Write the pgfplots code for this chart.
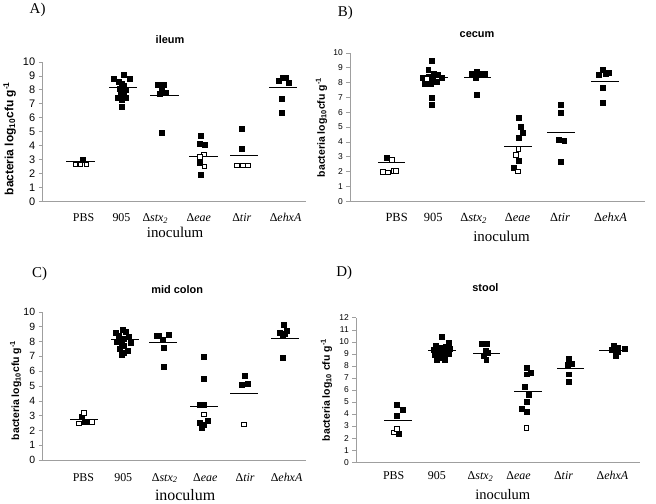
\documentclass[border=0pt]{standalone}
\usepackage{fontspec}
\setmainfont{Liberation Serif}
\newfontfamily\arial{Liberation Sans}
\usepackage{pgfplots}
\pgfplotsset{compat=1.18}
\newcommand{\fs}[1]{\fontsize{#1}{#1}\selectfont}
\pgfplotsset{
 panel/.style={
  scale only axis, anchor=south west,
  axis lines=left, axis line style={-, draw=gray!75, line width=0.6pt},
  clip=false, ymin=0,
  xticklabels={PBS,905,Δ\textit{stx}\textsubscript{\textit{2}},Δ\textit{eae},Δ\textit{tir},Δ\textit{ehxA}},
  major x tick style={draw=none},
  tick align=outside, major tick length=4bp,
  major y tick style={draw=gray!75, line width=0.6pt},
  /pgf/number format/assume math mode=true,
  xticklabel style={anchor=base, font=\fs{12bp}},
  yticklabel style={anchor=east},
  ylabel style={anchor=center},
  title style={anchor=center, font=\arial\bfseries\fs{11bp}},
  xlabel style={anchor=base, font=\fs{15bp}},
 },
 filled/.style={only marks, mark=square*, mark size=2.5pt, mark options={fill=black, draw=black, line width=0.4pt}},
 open/.style={only marks, mark=square*, mark size=2.4pt, mark options={fill=white, draw=black, line width=0.7pt}},
 mean/.style={only marks, mark=*, mark size=0pt, mark options={draw=none, fill=none},
   error bars/.cd, x dir=both, x fixed=#1, error mark=none, error bar style={draw=black, line width=1pt}},
}
\begin{document}
\begin{tikzpicture}
\path (0,0) rectangle (656bp,-502bp);
\node[font=\fs{15bp}] at (35bp,-9bp) {A)};
\node[font=\fs{15bp}] at (344bp,-12bp) {B)};
\node[font=\fs{15bp}] at (37bp,-274bp) {C)};
\node[font=\fs{15bp}] at (343bp,-273bp) {D)};

% ---------------- A: ileum
\begin{axis}[panel, at={(40bp,-201bp)}, width=265bp, height=140bp,
  xmin=0, xmax=6.625, ymax=10, ytick={0,...,10},
  xtick={1.03,1.98,2.83,3.92,5.0,6.1},
  xticklabel style={yshift=-16.7bp},
  yticklabel style={font=\arial\fs{11bp}},
  title={ileum}, title style={at={(axis description cs:0.483,1.12)}},
  xlabel={inoculum}, xlabel style={at={(axis description cs:0.502,-0.26)}},
  ylabel={bacteria log\textsubscript{10}cfu g\textsuperscript{-1}},
  ylabel style={at={(axis description cs:-0.125,0.45)}, font=\arial\bfseries\fs{12bp}}]
\addplot[filled] coordinates {
 (1.0,3.0)
 (1.79,8.8) (2.03,9.05) (2.19,8.8) (1.90,8.55) (1.98,8.45) (2.04,8.3) (1.93,8.1)
 (2.08,8.0) (2.03,7.8) (1.95,7.75) (1.88,7.4) (2.08,7.4) (1.98,7.3) (1.98,6.8)
 (2.88,8.33) (3.04,8.33) (2.98,8.0) (3.10,7.76) (2.94,7.69) (3.0,4.95)
 (3.98,4.71) (3.94,4.12) (4.06,4.08) (3.95,2.78) (3.98,1.88)
 (5.0,5.24) (5.0,3.76)
 (5.92,8.64) (6.03,8.85) (6.1,8.9) (6.17,8.52) (6.0,7.35) (6.0,6.38)};
\addplot[open] coordinates {
 (0.82,2.65) (0.95,2.65) (1.1,2.65)
 (4.04,3.36) (3.94,3.2) (4.06,2.5)
 (4.88,2.57) (5.02,2.57) (5.16,2.57)};
\addplot[mean=0.355] coordinates {
 (0.95,2.86) (2.02,8.14) (3.06,7.59) (4.04,3.22) (5.06,3.3) (6.04,8.19)};
\end{axis}

% ---------------- B: cecum
\begin{axis}[panel, at={(349bp,-201bp)}, width=296bp, height=149bp,
  xmin=0, xmax=7, ymax=10, ytick={0,...,10},
  xtick={1.1,1.97,2.93,3.97,4.98,6.18},
  xticklabel style={yshift=-16.7bp, font=\fs{12.5bp}},
  yticklabel style={font=\arial\fs{8.5bp}},
  title={cecum}, title style={at={(axis description cs:0.43,1.08)}},
  xlabel={inoculum}, xlabel style={at={(axis description cs:0.513,-0.27)}},
  ylabel={bacteria log\textsubscript{10}cfu g\textsuperscript{-1}},
  ylabel style={at={(axis description cs:-0.098,0.497)}, font=\arial\bfseries\fs{10.5bp}}]
\addplot[filled] coordinates {
 (0.875,2.92)
 (1.94,9.5) (1.85,8.85) (1.99,8.6) (2.08,8.5) (1.73,8.3) (1.87,8.4) (2.18,8.3)
 (1.96,8.2) (1.79,8.1) (2.06,8.05) (1.92,7.95) (1.76,7.9) (1.94,7.0) (1.94,6.5)
 (2.88,8.61) (3.0,8.74) (3.06,8.57) (3.19,8.57) (2.98,8.3) (3.0,7.16)
 (3.99,5.66) (4.04,5.03) (4.09,4.61) (3.99,4.27) (3.99,2.75) (3.87,2.24)
 (4.99,6.51) (4.99,5.95) (4.95,4.14) (5.08,4.09) (4.99,2.68)
 (5.89,8.52) (5.99,8.84) (6.07,8.57) (6.14,8.66) (5.99,7.67) (5.99,6.62)};
\addplot[open] coordinates {
 (0.99,2.78) (0.78,2.0) (0.9,1.95) (1.02,2.05) (1.09,2.05)
 (1.82,8.25)
 (3.99,3.54) (3.93,3.15) (3.98,2.01)};
\addplot[mean=0.33] coordinates {
 (0.98,2.6) (1.98,8.37) (3.02,8.37) (3.98,3.69) (5.0,4.61) (6.04,8.07)};
\end{axis}

% ---------------- C: mid colon
\begin{axis}[panel, at={(40bp,-461bp)}, width=265bp, height=149bp,
  xmin=-0.075, xmax=6.55, ymax=10, ytick={0,...,10},
  xtick={0.95,1.95,2.99,4.01,5.01,6.05},
  xticklabel style={yshift=-17bp},
  yticklabel style={font=\arial\fs{10.5bp}},
  title={mid colon}, title style={at={(axis description cs:0.51,1.11)}},
  xlabel={inoculum}, xlabel style={at={(axis description cs:0.54,-0.27)}, font=\fs{16bp}},
  ylabel={bacteria log\textsubscript{10}cfu g\textsuperscript{-1}},
  ylabel style={at={(axis description cs:-0.102,0.47)}, font=\arial\bfseries\fs{10.5bp}}]
\addplot[filled] coordinates {
 (0.9,2.91) (0.99,2.6) (1.05,2.6)
 (1.76,8.6) (1.93,8.8) (2.01,8.65) (1.84,8.4) (2.09,8.3) (1.97,8.2) (1.78,8.0)
 (1.9,7.95) (2.13,7.95) (1.97,7.7) (2.05,7.4) (1.85,7.5) (1.97,7.25) (1.9,7.1)
 (2.8,8.36) (2.93,8.14) (3.08,8.43) (2.97,7.58) (2.97,6.3) (2.85,8.4)
 (3.98,6.97) (3.98,5.49) (3.88,3.72) (3.97,3.72) (3.88,2.53) (4.08,2.64) (3.97,2.42) (3.91,2.2)
 (4.99,5.72) (4.93,5.11) (5.07,5.18) (5.0,5.12)
 (5.97,9.1) (5.88,8.59) (6.05,8.7) (5.95,8.43) (5.95,6.9) (6.01,8.55)};
\addplot[open] coordinates {
 (0.97,3.21) (0.84,2.49) (1.16,2.6)
 (3.98,3.09)
 (4.98,2.42)};
\addplot[mean=0.355] coordinates {
 (0.97,2.76) (1.99,8.14) (2.95,7.96) (3.97,3.65) (4.99,4.48) (6.01,8.2)};
\end{axis}

% ---------------- D: stool
\begin{axis}[panel, at={(355bp,-463bp)}, width=285bp, height=145bp,
  xmin=0.055, xmax=6.62, ymax=12, ytick={0,...,12},
  xtick={0.92,1.92,2.93,3.81,4.85,5.98},
  xticklabel style={yshift=-13.7bp},
  yticklabel style={font=\arial\fs{8.5bp}},
  title={stool}, title style={at={(axis description cs:0.455,1.17)}},
  xlabel={inoculum}, xlabel style={at={(axis description cs:0.516,-0.26)}, font=\fs{14.6bp}},
  ylabel={bacteria log\textsubscript{10} cfu g\textsuperscript{-1}},
  ylabel style={at={(axis description cs:-0.105,0.5)}, font=\arial\bfseries\fs{10.5bp}}]
\addplot[filled] coordinates {
 (1.0,4.74) (1.14,4.36) (1.0,3.86) (1.03,2.34)
 (2.03,10.4) (2.2,9.9) (1.9,9.65) (2.12,9.6) (2.0,9.5) (1.85,9.35) (2.22,9.4) (2.08,9.25)
 (1.95,9.15) (2.2,9.05) (1.88,8.95) (2.05,8.85) (1.92,8.55) (2.1,8.5) (2.0,8.7)
 (2.95,9.88) (3.08,9.85) (3.04,9.24) (3.1,9.1) (3.0,8.83) (3.06,8.55)
 (3.99,7.86) (4.08,7.45) (3.99,7.31) (3.95,6.26) (4.04,5.6) (3.99,5.05) (3.89,4.47) (3.99,4.19)
 (4.96,8.6) (4.94,8.14) (5.03,8.22) (4.96,7.31) (4.96,6.68)
 (6.0,9.66) (6.11,9.52) (6.27,9.43) (5.96,9.32) (6.05,8.83) (6.1,9.2)};
\addplot[open] coordinates {
 (0.93,2.48) (1.0,2.76)
 (3.99,2.84)};
\addplot[mean=0.32] coordinates {
 (1.02,3.45) (2.04,9.3) (3.07,9.05) (4.02,5.85) (5.01,7.81) (5.98,9.32)};
\end{axis}
\end{tikzpicture}
\end{document}
